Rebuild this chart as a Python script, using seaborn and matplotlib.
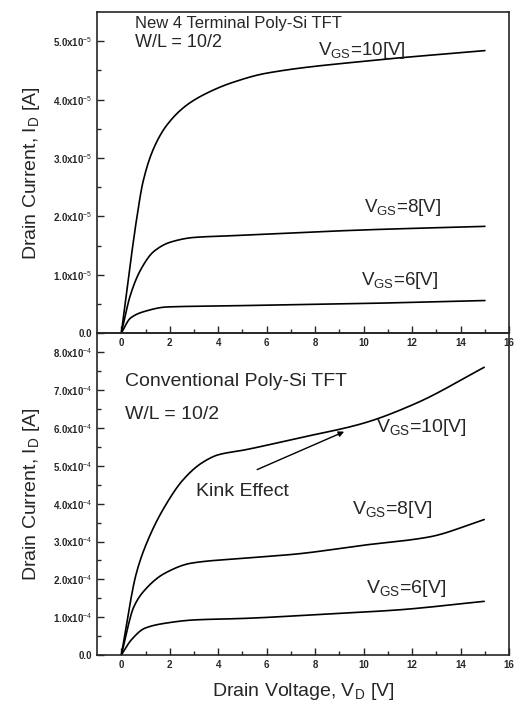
import matplotlib
matplotlib.use('Agg')
import matplotlib.pyplot as plt
import numpy as np
import pandas as pd
import seaborn as sns

# drain voltage points (V) and drain currents
# top panel: new 4 terminal TFT (x1e-5 A)
vd_top_10 = [0, 0.66, 0.90, 1.34, 1.89, 2.71, 3.67, 4.56, 5.95, 10.07, 15.0]
id_top_10 = [0, 2.03, 2.60, 3.17, 3.57, 3.91, 4.14, 4.29, 4.45, 4.66, 4.84]
vd_top_8 = [0, 0.38, 0.79, 1.34, 2.03, 2.99, 4.56, 10.07, 15.0]
id_top_8 = [0, 0.66, 1.08, 1.40, 1.56, 1.64, 1.67, 1.77, 1.83]
vd_top_6 = [0, 0.38, 0.93, 1.89, 4.56, 10.07, 15.0]
id_top_6 = [0, 0.26, 0.37, 0.45, 0.47, 0.51, 0.56]

# bottom panel: conventional TFT (x1e-4 A)
vd_bot_10 = [0, 0.62, 1.10, 1.79, 2.55, 3.31, 4.0, 5.1, 7.23, 9.97, 12.16, 14.97]
id_bot_10 = [0, 2.16, 3.04, 3.92, 4.63, 5.07, 5.29, 5.42, 5.72, 6.12, 6.65, 7.60]
vd_bot_8 = [0, 0.52, 0.97, 1.79, 2.9, 5.1, 7.23, 9.97, 12.7, 14.97]
id_bot_8 = [0, 1.28, 1.72, 2.16, 2.43, 2.56, 2.67, 2.90, 3.12, 3.58]
vd_bot_6 = [0, 0.41, 0.97, 1.79, 3.03, 5.1, 8.6, 11.34, 14.97]
id_bot_6 = [0, 0.40, 0.71, 0.84, 0.93, 0.97, 1.09, 1.19, 1.42]

top_yticks = [0, 1, 2, 3, 4, 5]
bot_yticks = [0, 1, 2, 3, 4, 5, 6, 7, 8]
xticks = [0, 2, 4, 6, 8, 10, 12, 14, 16]


def smooth(x, y, n=300):
    # monotone cubic (PCHIP-like) resampling so the curves look hand drawn
    x = np.asarray(x, float); y = np.asarray(y, float)
    h = np.diff(x); d = np.diff(y) / h
    m = np.zeros_like(y)
    m[0], m[-1] = d[0], d[-1]
    for i in range(1, len(x) - 1):
        if d[i - 1] * d[i] > 0:
            w1 = 2 * h[i] + h[i - 1]; w2 = h[i] + 2 * h[i - 1]
            m[i] = (w1 + w2) / (w1 / d[i - 1] + w2 / d[i])
    xs = np.linspace(x[0], x[-1], n)
    k = np.clip(np.searchsorted(x, xs) - 1, 0, len(x) - 2)
    t = (xs - x[k]) / h[k]
    h00 = 2*t**3 - 3*t**2 + 1; h10 = t**3 - 2*t**2 + t
    h01 = -2*t**3 + 3*t**2; h11 = t**3 - t**2
    ys = h00*y[k] + h10*h[k]*m[k] + h01*y[k+1] + h11*h[k]*m[k+1]
    return xs, ys


def frame(curves):
    rows = []
    for name, (x, y) in curves.items():
        xs, ys = smooth(x, y)
        rows.append(pd.DataFrame({'VD': xs, 'ID': ys, 'VGS': name}))
    return pd.concat(rows, ignore_index=True)


df_top = frame({'10': (vd_top_10, id_top_10), '8': (vd_top_8, id_top_8), '6': (vd_top_6, id_top_6)})
df_bot = frame({'10': (vd_bot_10, id_bot_10), '8': (vd_bot_8, id_bot_8), '6': (vd_bot_6, id_bot_6)})

sns.set_style('ticks')
plt.rcParams['font.family'] = ['Liberation Sans', 'DejaVu Sans']
plt.rcParams['mathtext.fontset'] = 'custom'
plt.rcParams['mathtext.rm'] = 'Liberation Sans'

fig = plt.figure(figsize=(5.19, 7.09), dpi=100)
ax1 = fig.add_axes([0.187, 0.530, 0.794, 0.453])
ax2 = fig.add_axes([0.187, 0.076, 0.794, 0.454])
ax2.patch.set_alpha(0)

pal = {'10': 'black', '8': 'black', '6': 'black'}
sns.lineplot(data=df_top, x='VD', y='ID', hue='VGS', palette=pal, ax=ax1,
             legend=False, linewidth=1.2, estimator=None, sort=False)
sns.lineplot(data=df_bot, x='VD', y='ID', hue='VGS', palette=pal, ax=ax2,
             legend=False, linewidth=1.2, estimator=None, sort=False)

for ax, ymax, yt, exp in [(ax1, 5.5, top_yticks, '-5'), (ax2, 8.5, bot_yticks, '-4')]:
    ax.set_xlim(-1, 16)
    ax.set_ylim(0, ymax)
    ax.set_xticks(xticks)
    ax.set_xticks(np.arange(1, 16, 2), minor=True)
    ax.set_xticklabels([str(v) for v in xticks], fontsize=7, fontweight='bold')
    ax.set_yticks(yt)
    ax.set_yticks(np.arange(0.5, ymax, 1), minor=True)
    ax.set_yticklabels(['0.0'] + ['%.1fx10$^{%s}$' % (v, exp) for v in yt[1:]],
                       fontsize=7, fontweight='bold')
    ax.tick_params(which='both', direction='in', top=False, right=False)
    ax.tick_params(which='major', length=5, width=1)
    ax.tick_params(which='minor', length=3, width=1)
    ax.set_xlabel('')
    ax.set_ylabel('Drain Current, I$_\\mathrm{D}$ [A]', fontsize=14, labelpad=8)
    for s in ax.spines.values():
        s.set_linewidth(1.2)

vgs = 'V$_{\\mathrm{GS}}$=%s[V]'

# top panel texts
ax1.text(0.58, 5.30, 'New 4 Terminal Poly-Si TFT', fontsize=12, va='center')
ax1.text(0.58, 4.98, 'W/L = 10/2', fontsize=13, va='center')
ax1.text(8.1, 4.85, vgs % '10', fontsize=13.5, va='center')
ax1.text(10.0, 2.16, vgs % '8', fontsize=13.5, va='center')
ax1.text(9.9, 0.91, vgs % '6', fontsize=13.5, va='center')

# bottom panel texts
ax2.text(0.15, 7.22, 'Conventional Poly-Si TFT', fontsize=14, va='center')
ax2.text(0.15, 6.35, 'W/L = 10/2', fontsize=14, va='center')
ax2.text(10.5, 6.0, vgs % '10', fontsize=14, va='center')
ax2.text(9.5, 3.84, vgs % '8', fontsize=14, va='center')
ax2.text(10.1, 1.75, vgs % '6', fontsize=14, va='center')
ax2.text(3.1, 4.31, 'Kink Effect', fontsize=14, va='center')
ax2.annotate('', xy=(9.3, 5.93), xytext=(5.5, 4.87),
             arrowprops=dict(arrowstyle='-|>', color='black', lw=1, mutation_scale=8))
ax2.set_xlabel('Drain Voltage, V$_\\mathrm{D}$ [V]', fontsize=14, labelpad=8)

fig.savefig('out.png', dpi=100)
